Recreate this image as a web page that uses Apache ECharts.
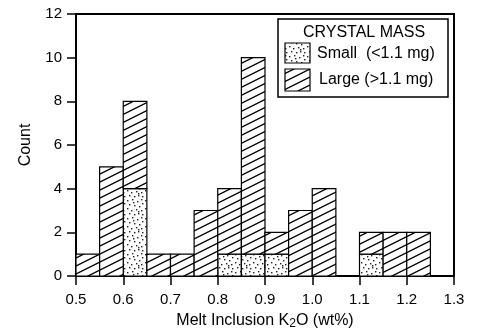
<!DOCTYPE html>
<html><head><meta charset="utf-8">
<script src="https://cdn.jsdelivr.net/npm/echarts@6/dist/echarts.min.js"></script>
<style>html,body{margin:0;padding:0;background:#fff}#c{width:479px;height:335px}</style>
</head><body><div id="c"></div>
<script>
// Data
const binStarts = [0.50, 0.55, 0.60, 0.65, 0.70, 0.75, 0.80, 0.85, 0.90, 0.95, 1.00, 1.05, 1.10, 1.15, 1.20];
const binWidth = 0.05;
const smallCounts = [0, 0, 4, 0, 0, 0, 1, 1, 1, 0, 0, 0, 1, 0, 0];
const totalCounts = [1, 5, 8, 1, 1, 3, 4, 10, 2, 3, 4, 0, 2, 2, 2];
const yTicks = [0, 2, 4, 6, 8, 10, 12];
const xTicks = [0.5, 0.6, 0.7, 0.8, 0.9, 1.0, 1.1, 1.2, 1.3];
const legendTitle = 'CRYSTAL MASS';
const smallLabel = 'Small  (<1.1 mg)';
const largeLabel = 'Large (>1.1 mg)';

const FONT = '"Liberation Sans", Arial, Helvetica, sans-serif';

// Patterns
function hatchPattern() {
  const c = document.createElement('canvas');
  c.width = 16; c.height = 8;
  const g = c.getContext('2d');
  g.fillStyle = '#fff'; g.fillRect(0, 0, 16, 8);
  g.strokeStyle = '#000'; g.lineWidth = 1.3;
  g.beginPath();
  g.moveTo(-16, 16); g.lineTo(32, -8);
  g.moveTo(-16, 24); g.lineTo(32, 0);
  g.moveTo(-16, 8); g.lineTo(32, -16);
  g.stroke();
  return { image: c, repeat: 'repeat' };
}
function dotPattern() {
  const c = document.createElement('canvas');
  c.width = 18; c.height = 18;
  const g = c.getContext('2d');
  g.fillStyle = '#fff'; g.fillRect(0, 0, 18, 18);
  const pts = [[1,2],[6,1],[11,3],[15,1],[3,6],[8,7],[13,8],[16,5],[1,10],[5,12],[10,11],[15,12],[3,15],[8,16],[12,15],[16,16],[7,4],[12,13]];
  g.fillStyle = '#222';
  pts.forEach(p => { g.fillRect(p[0], p[1], 1.4, 1.4); });
  return { image: c, repeat: 'repeat' };
}
const HATCH = hatchPattern();
const DOTS = dotPattern();

const smallData = [], largeData = [];
binStarts.forEach((x0, i) => {
  const s = smallCounts[i], t = totalCounts[i];
  if (s > 0) smallData.push([x0, x0 + binWidth, 0, s]);
  if (t > s) largeData.push([x0, x0 + binWidth, s, t]);
});

function makeRender(fill) {
  return function (params, api) {
    const p0 = api.coord([api.value(0), api.value(2)]);
    const p1 = api.coord([api.value(1), api.value(3)]);
    return {
      type: 'rect',
      shape: { x: p0[0], y: p1[1], width: p1[0] - p0[0], height: p0[1] - p1[1] },
      style: { fill: fill, stroke: '#000', lineWidth: 1.2 }
    };
  };
}

const chart = echarts.init(document.getElementById('c'), null, { renderer: 'canvas' });
chart.setOption({
  animation: false,
  backgroundColor: '#fff',
  grid: { left: 76, right: 25, top: 14, bottom: 57, show: true, borderColor: '#000', borderWidth: 2, backgroundColor: 'transparent' },
  xAxis: {
    type: 'value', min: xTicks[0], max: xTicks[xTicks.length - 1], interval: 0.1,
    name: 'Melt Inclusion K{sub|2}O (wt%)', nameLocation: 'middle', nameGap: 35, nameMoveOverlap: false,
    nameTextStyle: { fontFamily: FONT, fontSize: 16, color: '#000',
      rich: { sub: { fontFamily: FONT, fontSize: 12, color: '#000', verticalAlign: 'bottom', padding: [7, 0, 0, 0] } } },
    axisLine: { show: true, lineStyle: { color: '#000', width: 2 } },
    axisTick: { show: true, length: 9, inside: false, lineStyle: { color: '#000', width: 1.5 } },
    axisLabel: { fontFamily: FONT, fontSize: 15, color: '#000', margin: 16, formatter: v => v.toFixed(1) },
    splitLine: { show: false }
  },
  yAxis: {
    type: 'value', min: yTicks[0], max: yTicks[yTicks.length - 1], interval: 2,
    name: 'Count', nameLocation: 'middle', nameGap: 42, nameRotate: 90, nameMoveOverlap: false,
    nameTextStyle: { fontFamily: FONT, fontSize: 16, color: '#000' },
    axisLine: { show: true, lineStyle: { color: '#000', width: 2 } },
    axisTick: { show: true, length: 9, lineStyle: { color: '#000', width: 1.5 } },
    axisLabel: { fontFamily: FONT, fontSize: 15, color: '#000', margin: 14 },
    splitLine: { show: false }
  },
  series: [
    { name: 'Small', type: 'custom', renderItem: makeRender(DOTS), encode: { x: [0, 1], y: [2, 3] }, data: smallData, z: 3 },
    { name: 'Large', type: 'custom', renderItem: makeRender(HATCH), encode: { x: [0, 1], y: [2, 3] }, data: largeData, z: 3 }
  ],
  graphic: [
    { type: 'rect', shape: { x: 278, y: 19, width: 170, height: 78 }, style: { fill: '#fff', stroke: '#000', lineWidth: 1.5 }, z: 10 },
    { type: 'text', x: 364, y: 33, style: { text: legendTitle, font: '16px ' + FONT, fill: '#000', align: 'center', verticalAlign: 'middle' }, z: 11 },
    { type: 'rect', shape: { x: 285, y: 43, width: 25, height: 20 }, style: { fill: DOTS, stroke: '#000', lineWidth: 1.2 }, z: 11 },
    { type: 'text', x: 317, y: 54, style: { text: smallLabel, font: '16px ' + FONT, fill: '#000', align: 'left', verticalAlign: 'middle' }, z: 11 },
    { type: 'rect', shape: { x: 285, y: 69, width: 25, height: 22 }, style: { fill: HATCH, stroke: '#000', lineWidth: 1.2 }, z: 11 },
    { type: 'text', x: 319, y: 80, style: { text: largeLabel, font: '16px ' + FONT, fill: '#000', align: 'left', verticalAlign: 'middle' }, z: 11 }
  ]
});
</script>
</body></html>
